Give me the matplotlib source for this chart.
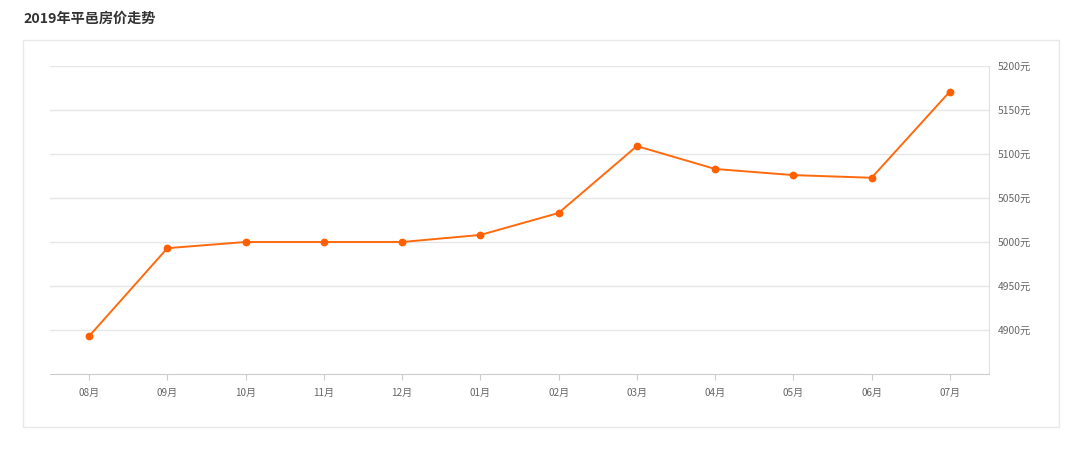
import matplotlib.pyplot as plt
from matplotlib.patches import Rectangle

plt.rcParams['font.family'] = ['Noto Sans CJK SC', 'DejaVu Sans']

# 数据
months = ["08月", "09月", "10月", "11月", "12月", "01月", "02月",
          "03月", "04月", "05月", "06月", "07月"]
prices = [4893, 4993, 5000, 5000, 5000, 5008, 5033,
          5109, 5083, 5076, 5073, 5171]
y_ticks = [4900, 4950, 5000, 5050, 5100, 5150, 5200]

W, H = 1080, 451
fig = plt.figure(figsize=(W / 100, H / 100), dpi=100)

# 外框
fig.patches.append(Rectangle((23 / W, 1 - 427 / H), (1059 - 23) / W, (427 - 40) / H,
                             transform=fig.transFigure, fill=False,
                             edgecolor="#e8e8e8", linewidth=1))
fig.text(23 / W, 1 - 19 / H, "2019年平邑房价走势", fontsize=10.2, fontweight="bold",
         color="#333333", va="center", ha="left")

ax = fig.add_axes([50 / W, 1 - 374 / H, (989 - 50) / W, (374 - 66) / H])
x = list(range(len(months)))
ax.plot(x, prices, color="#ff6a0d", linewidth=1.4, marker="o", markersize=4.6,
        markerfacecolor="#ff5f00", markeredgecolor="#ff5f00", zorder=3)

ax.set_xlim(-0.5, len(months) - 0.5)
ax.set_ylim(4850, 5200)
ax.set_xticks(x)
ax.set_xticklabels(months)
ax.set_yticks(y_ticks)
ax.set_yticklabels([f"{v}元" for v in y_ticks])
ax.yaxis.tick_right()
ax.grid(axis="y", color="#e6e6e6", linewidth=1)
ax.set_axisbelow(True)

for side in ["top", "left"]:
    ax.spines[side].set_visible(False)
ax.spines["bottom"].set_color("#cccccc")
ax.spines["right"].set_color("#e0e0e0")

ax.tick_params(axis="x", length=4, color="#cccccc", labelsize=7.2,
               labelcolor="#666666", pad=6)
ax.tick_params(axis="y", length=0, labelsize=7.4, labelcolor="#666666", pad=6)

plt.savefig("out.png", dpi=100)
